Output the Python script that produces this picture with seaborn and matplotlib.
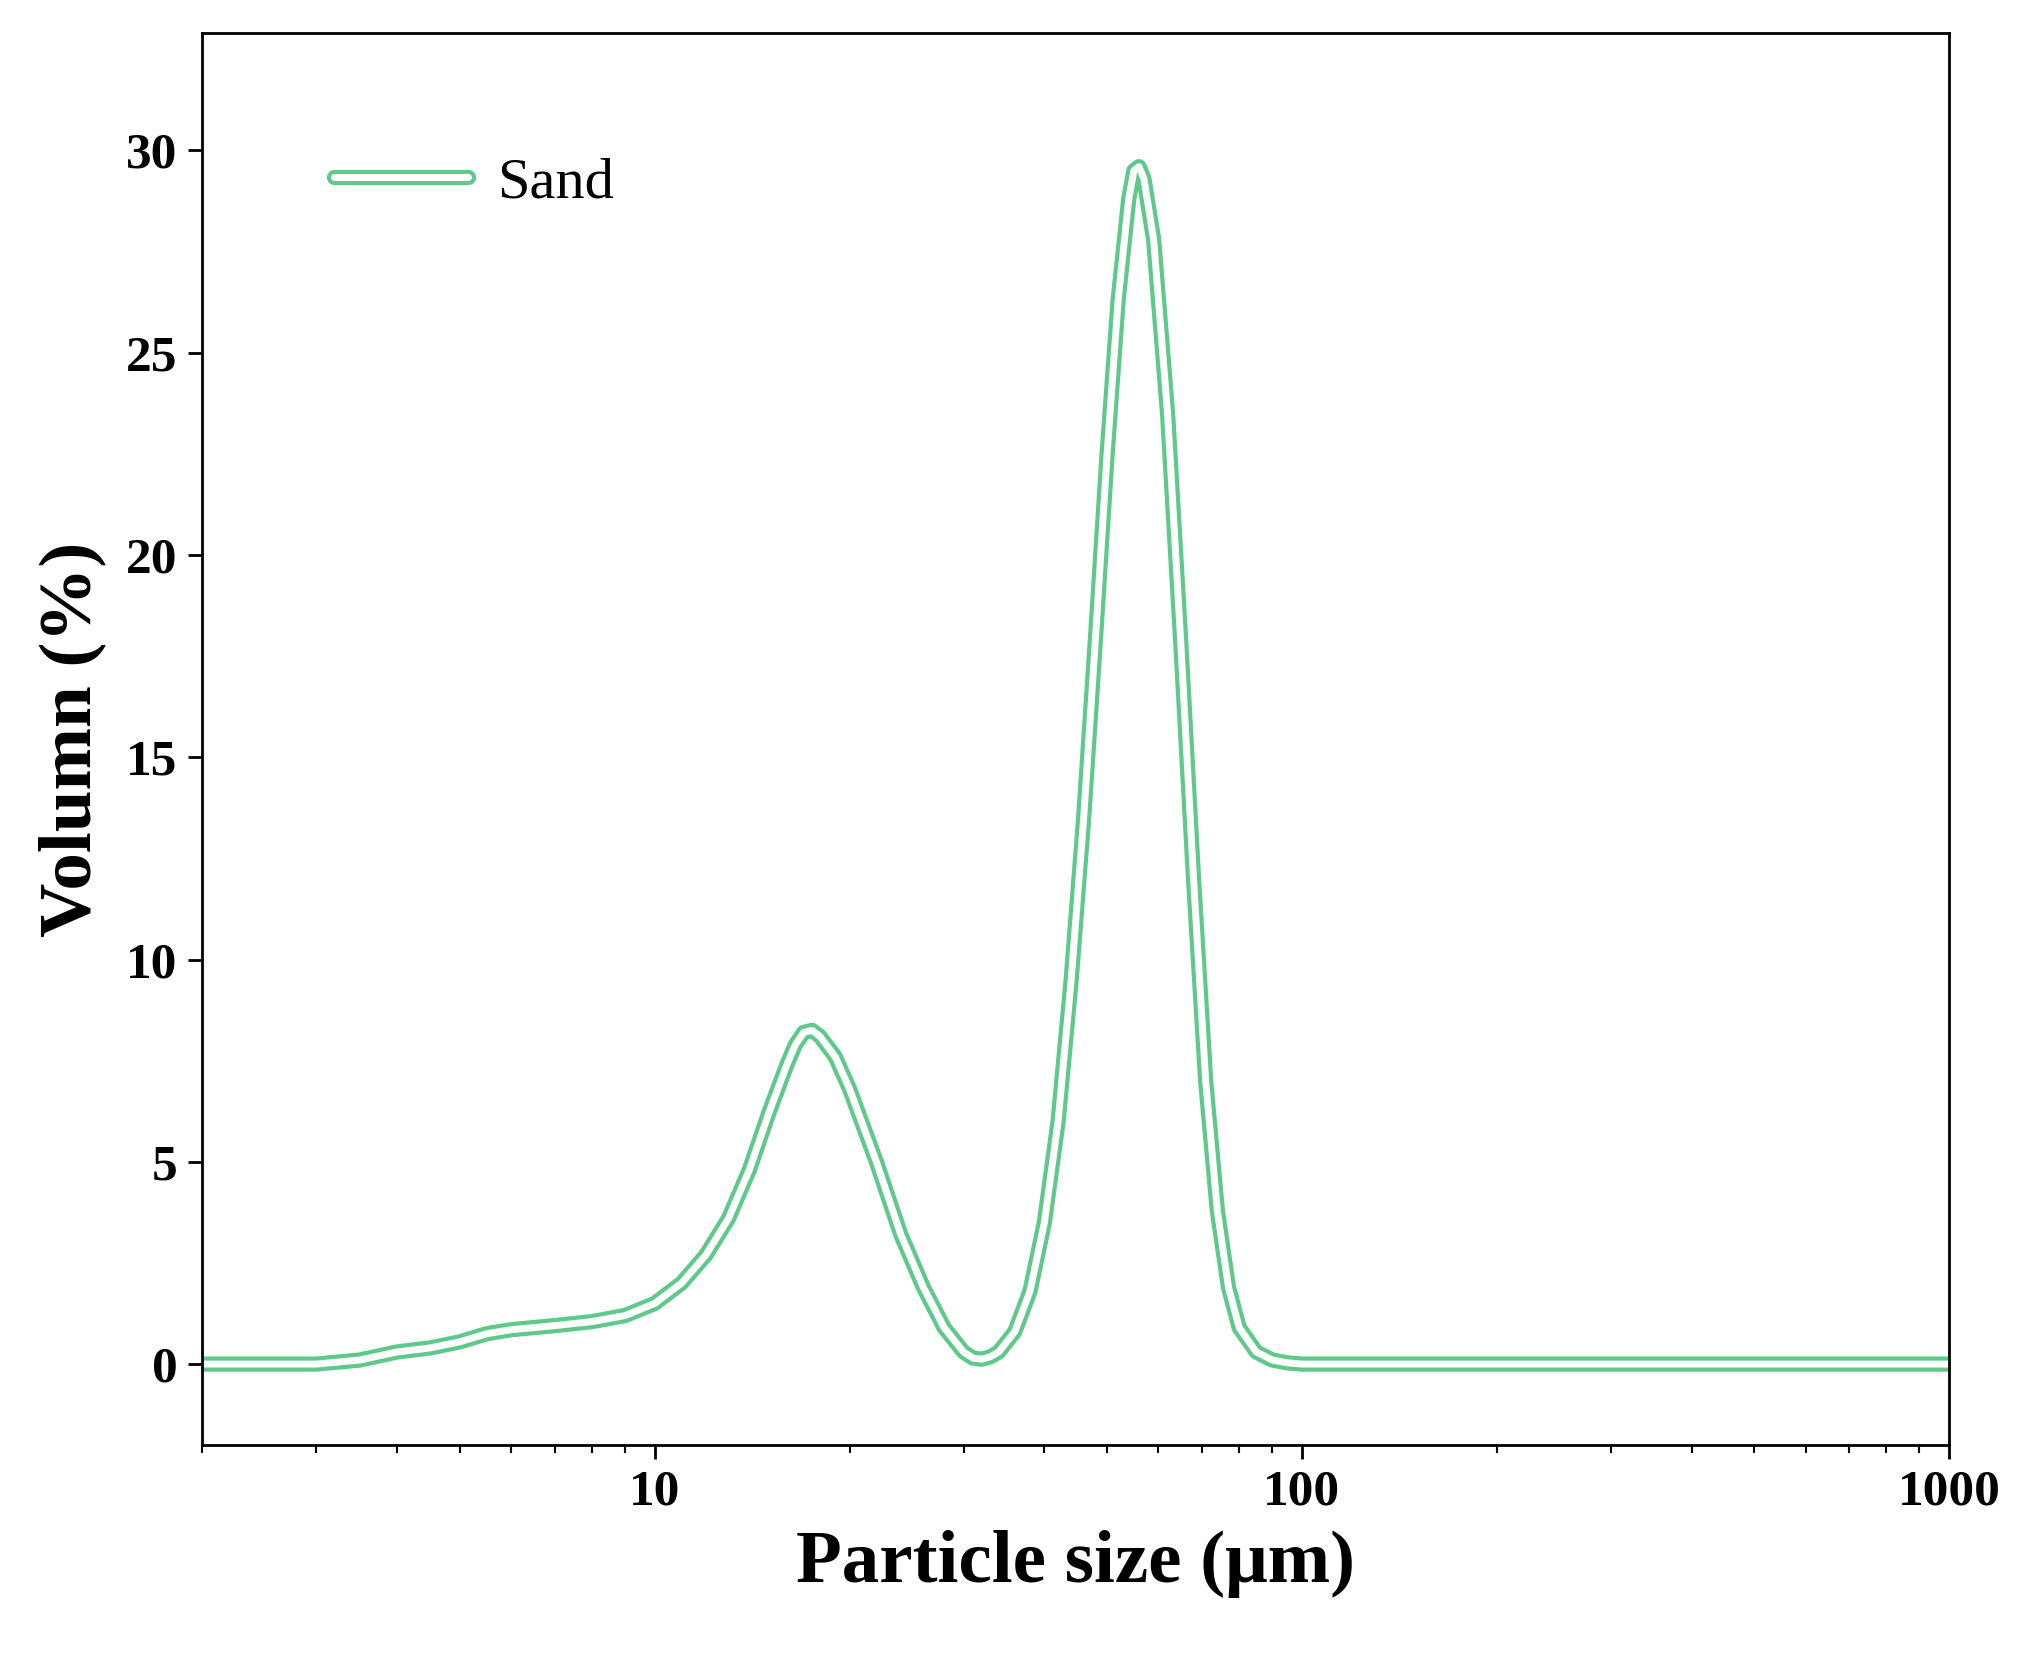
import numpy as np
import pandas as pd
import matplotlib
matplotlib.use("Agg")
import matplotlib.pyplot as plt
import seaborn as sns
from matplotlib.ticker import LogLocator, NullFormatter
from matplotlib.lines import Line2D

size_um = [2, 3, 3.5, 4, 4.5, 5, 5.5, 6, 7, 8, 9, 10, 11, 12, 13, 14, 15, 16, 16.5, 17, 17.5, 18, 19, 20, 22, 24, 26, 28, 30, 31, 32, 33, 34, 36, 38, 40, 42, 44, 46, 48, 50, 52, 54, 55, 56, 57, 59, 62, 65, 68, 71, 74, 77, 80, 85, 90, 95, 100, 1000]
volume = [0, 0, 0.1, 0.3, 0.4, 0.55, 0.75, 0.85, 0.95, 1.05, 1.2, 1.5, 2.0, 2.7, 3.6, 4.8, 6.2, 7.4, 7.9, 8.2, 8.25, 8.1, 7.6, 6.8, 5.0, 3.2, 1.9, 0.9, 0.3, 0.15, 0.12, 0.18, 0.3, 0.8, 1.8, 3.5, 6.0, 9.5, 13.5, 18.0, 22.5, 26.3, 28.8, 29.5, 29.6, 29.3, 27.8, 23.5, 17.8, 12.0, 7.0, 3.8, 1.9, 0.9, 0.3, 0.1, 0.03, 0, 0]
series_name = "Sand"

df = pd.DataFrame({"size": size_um, "vol": volume})

sns.set_theme(style="ticks")
plt.rcParams['font.family'] = ['Liberation Serif', 'DejaVu Serif']
plt.rcParams['text.color'] = 'black'
plt.rcParams['axes.labelcolor'] = 'black'
plt.rcParams['xtick.color'] = 'black'
plt.rcParams['ytick.color'] = 'black'

fig = plt.figure(figsize=(20.24, 16.59), dpi=100)
ax = fig.add_axes([0.100, 0.129, 0.863, 0.851])
sns.lineplot(data=df, x="size", y="vol", ax=ax, color="#5fc98c", lw=11, solid_capstyle="round", solid_joinstyle="round")
sns.lineplot(data=df, x="size", y="vol", ax=ax, color="white", lw=5, solid_capstyle="round", solid_joinstyle="round")
ax.set_xscale("log")
ax.set_xlim(2, 1000)
ax.set_ylim(-2, 32.9)
ax.set_xticks([10, 100, 1000])
ax.set_xticklabels(["10", "100", "1000"])
ax.xaxis.set_minor_locator(LogLocator(base=10, subs=np.arange(2, 10)))
ax.xaxis.set_minor_formatter(NullFormatter())
ax.set_yticks([0, 5, 10, 15, 20, 25, 30])
ax.tick_params(axis="both", which="major", direction="out", length=10, width=2, labelsize=37, pad=8)
ax.tick_params(axis="x", which="minor", direction="out", length=6, width=1.5)
for lab in ax.get_xticklabels() + ax.get_yticklabels():
    lab.set_fontweight("bold")
for s in ax.spines.values():
    s.set_linewidth(2)
    s.set_color("black")
ax.set_xlabel("Particle size (μm)", fontsize=54, fontweight="bold", labelpad=10)
ax.set_ylabel("Volumn (%)", fontsize=54, fontweight="bold", labelpad=14)

h1 = Line2D([], [], color="#5fc98c", lw=11, solid_capstyle="round")
h2 = Line2D([], [], color="white", lw=5, solid_capstyle="round")
ax.legend([(h1, h2)], [series_name], loc="upper left", bbox_to_anchor=(0.045, 0.95),
          frameon=False, fontsize=42, handlelength=2.3, handletextpad=0.5)

fig.savefig("out.png", dpi=100)
